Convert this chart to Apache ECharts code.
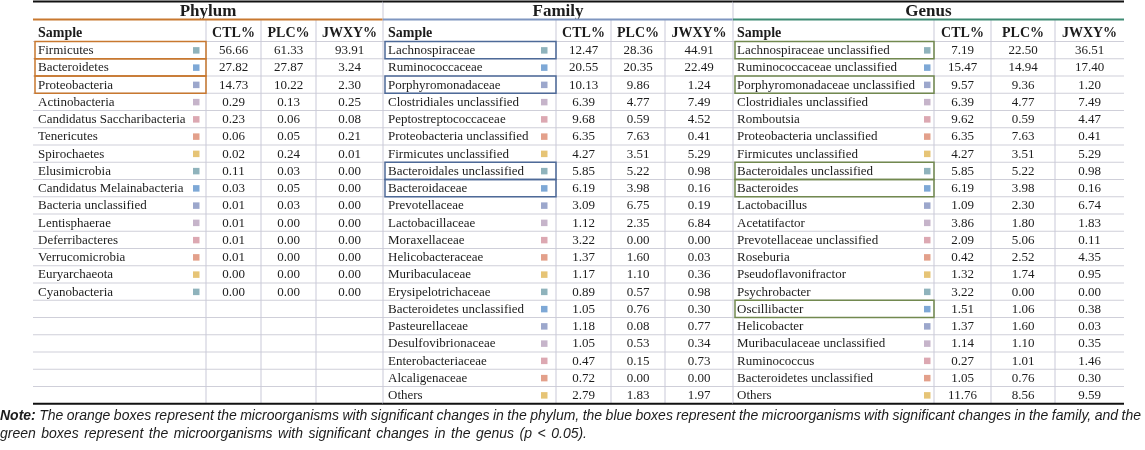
<!DOCTYPE html>
<html><head><meta charset="utf-8">
<script src="https://cdn.jsdelivr.net/npm/echarts@6/dist/echarts.min.js"></script>
<style>html,body{margin:0;padding:0;background:#fff}#c{width:1145px;height:450px}</style>
</head><body><div id="c"></div>
<script>
// ---- data ----
const sectionTitles = ['Phylum', 'Family', 'Genus'];
const columnHeaders = ['Sample', 'CTL%', 'PLC%', 'JWXY%'];

const phylumNames = ['Firmicutes','Bacteroidetes','Proteobacteria','Actinobacteria','Candidatus Saccharibacteria','Tenericutes','Spirochaetes','Elusimicrobia','Candidatus Melainabacteria','Bacteria unclassified','Lentisphaerae','Deferribacteres','Verrucomicrobia','Euryarchaeota','Cyanobacteria'];
const phylumCTL  = [56.66,27.82,14.73,0.29,0.23,0.06,0.02,0.11,0.03,0.01,0.01,0.01,0.01,0.00,0.00];
const phylumPLC  = [61.33,27.87,10.22,0.13,0.06,0.05,0.24,0.03,0.05,0.03,0.00,0.00,0.00,0.00,0.00];
const phylumJWXY = [93.91,3.24,2.30,0.25,0.08,0.21,0.01,0.00,0.00,0.00,0.00,0.00,0.00,0.00,0.00];
const phylumSig  = ['Firmicutes','Bacteroidetes','Proteobacteria'];

const familyNames = ['Lachnospiraceae','Ruminococcaceae','Porphyromonadaceae','Clostridiales unclassified','Peptostreptococcaceae','Proteobacteria unclassified','Firmicutes unclassified','Bacteroidales unclassified','Bacteroidaceae','Prevotellaceae','Lactobacillaceae','Moraxellaceae','Helicobacteraceae','Muribaculaceae','Erysipelotrichaceae','Bacteroidetes unclassified','Pasteurellaceae','Desulfovibrionaceae','Enterobacteriaceae','Alcaligenaceae','Others'];
const familyCTL  = [12.47,20.55,10.13,6.39,9.68,6.35,4.27,5.85,6.19,3.09,1.12,3.22,1.37,1.17,0.89,1.05,1.18,1.05,0.47,0.72,2.79];
const familyPLC  = [28.36,20.35,9.86,4.77,0.59,7.63,3.51,5.22,3.98,6.75,2.35,0.00,1.60,1.10,0.57,0.76,0.08,0.53,0.15,0.00,1.83];
const familyJWXY = [44.91,22.49,1.24,7.49,4.52,0.41,5.29,0.98,0.16,0.19,6.84,0.00,0.03,0.36,0.98,0.30,0.77,0.34,0.73,0.00,1.97];
const familySig  = ['Lachnospiraceae','Porphyromonadaceae','Bacteroidales unclassified','Bacteroidaceae'];

const genusNames = ['Lachnospiraceae unclassified','Ruminococcaceae unclassified','Porphyromonadaceae unclassified','Clostridiales unclassified','Romboutsia','Proteobacteria unclassified','Firmicutes unclassified','Bacteroidales unclassified','Bacteroides','Lactobacillus','Acetatifactor','Prevotellaceae unclassified','Roseburia','Pseudoflavonifractor','Psychrobacter','Oscillibacter','Helicobacter','Muribaculaceae unclassified','Ruminococcus','Bacteroidetes unclassified','Others'];
const genusCTL  = [7.19,15.47,9.57,6.39,9.62,6.35,4.27,5.85,6.19,1.09,3.86,2.09,0.42,1.32,3.22,1.51,1.37,1.14,0.27,1.05,11.76];
const genusPLC  = [22.50,14.94,9.36,4.77,0.59,7.63,3.51,5.22,3.98,2.30,1.80,5.06,2.52,1.74,0.00,1.06,1.60,1.10,1.01,0.76,8.56];
const genusJWXY = [36.51,17.40,1.20,7.49,4.47,0.41,5.29,0.98,0.16,6.74,1.83,0.11,4.35,0.95,0.00,0.38,0.03,0.35,1.46,0.30,9.59];
const genusSig  = ['Lachnospiraceae unclassified','Porphyromonadaceae unclassified','Bacteroidales unclassified','Bacteroides','Oscillibacter'];

const noteBold = 'Note:';
const noteLine1 = 'The orange boxes represent the microorganisms with significant changes in the phylum, the blue boxes represent the microorganisms with significant changes in the family, and the';
const noteLine2 = 'green boxes represent the microorganisms with significant changes in the genus (p < 0.05).';

// ---- styles / layout ----
const markerColors = ['#8fb3bc','#7ea8d6','#9ca7cc','#c6b4ca','#dca8b2','#e3a08b','#e6c476'];
const SERIF = '"Liberation Serif","Times New Roman",serif';
const SANS = '"Liberation Sans",Arial,sans-serif';
const N_ROWS = 21, ROW_TOP = 41.5, ROW_H = 17.25;
const TOP_Y = 1.5, TITLE_Y = 12, ULINE_Y = 19.5, HEAD_Y = 33;
const BOTTOM_Y = ROW_TOP + ROW_H * N_ROWS;
const layout = [
  {edges:[33,206,261,316,383], nameX:38, markX:196, lineColor:'#c8782f', boxColor:'#c8782f'},
  {edges:[383,556,611,665,733], nameX:388, markX:544, lineColor:'#7f96c0', boxColor:'#4e6a98'},
  {edges:[733,934,991,1055,1124], nameX:737, markX:927, lineColor:'#3f8c74', boxColor:'#72894f'}
];
const sectionData = [
  {names:phylumNames, ctl:phylumCTL, plc:phylumPLC, jwxy:phylumJWXY, sig:phylumSig},
  {names:familyNames, ctl:familyCTL, plc:familyPLC, jwxy:familyJWXY, sig:familySig},
  {names:genusNames, ctl:genusCTL, plc:genusPLC, jwxy:genusJWXY, sig:genusSig}
];

function line(api, x1, y1, x2, y2, color, w) {
  const a = api.coord([x1, y1]), b = api.coord([x2, y2]);
  return {type:'line', shape:{x1:a[0], y1:a[1], x2:b[0], y2:b[1]}, style:{stroke:color, lineWidth:w}};
}
function txt(api, x, y, text, align, font, fill) {
  const p = api.coord([x, y]);
  return {type:'text', style:{text:text, x:p[0], y:p[1], align:align, verticalAlign:'middle', font:font, fill:fill || '#1c1c1c'}};
}

function frameItem(params, api) {
  const k = api.value(0);
  const L = layout[k], e = L.edges;
  const ch = [];
  for (let r = 0; r < N_ROWS; r++) {
    const y = ROW_TOP + ROW_H * r;
    ch.push(line(api, e[0], y, e[4], y, '#cfcfd9', 1));
  }
  for (let j = 1; j <= 3; j++) ch.push(line(api, e[j], ULINE_Y, e[j], BOTTOM_Y, '#c9c9d8', 1));
  if (k > 0) ch.push(line(api, e[0], TOP_Y, e[0], BOTTOM_Y, '#c9c9d8', 1));
  ch.push(txt(api, (e[0] + e[4]) / 2, TITLE_Y, sectionTitles[k], 'center', 'bold 17px ' + SERIF));
  ch.push(line(api, e[0], ULINE_Y, e[4], ULINE_Y, L.lineColor, 2));
  ch.push(txt(api, L.nameX, HEAD_Y, columnHeaders[0], 'left', 'bold 14px ' + SERIF));
  for (let j = 1; j <= 3; j++) ch.push(txt(api, (e[j] + e[j + 1]) / 2, HEAD_Y, columnHeaders[j], 'center', 'bold 14px ' + SERIF));
  ch.push(line(api, e[0], TOP_Y, e[4], TOP_Y, '#111', 2));
  ch.push(line(api, e[0], BOTTOM_Y, e[4], BOTTOM_Y, '#111', 2));
  return {type:'group', children:ch};
}

function rowItemFor(k) {
  return function (params, api) {
    const L = layout[k], e = L.edges, S = sectionData[k];
    const i = api.value(0);
    const name = S.names[params.dataIndex];
    const top = ROW_TOP + ROW_H * i, cy = top + ROW_H / 2 + 0.5;
    const ch = [];
    ch.push(txt(api, L.nameX, cy, name, 'left', '13px ' + SERIF));
    const m = api.coord([L.markX, cy]);
    ch.push({type:'rect', shape:{x:m[0] - 3, y:m[1] - 3.5, width:6.5, height:6.5}, style:{fill:markerColors[i % markerColors.length]}});
    for (let j = 1; j <= 3; j++) {
      ch.push(txt(api, (e[j] + e[j + 1]) / 2, cy, api.value(j).toFixed(2), 'center', '13px ' + SERIF));
    }
    if (S.sig.indexOf(name) >= 0) {
      const a = api.coord([e[0] + 2, top]), b = api.coord([e[1], top + ROW_H]);
      ch.push({type:'rect', shape:{x:a[0], y:a[1], width:b[0] - a[0], height:b[1] - a[1]}, style:{fill:'none', stroke:L.boxColor, lineWidth:1.5}});
    }
    return {type:'group', children:ch};
  };
}

// justified note line built as rich text with sized gaps
const NOTE_SIZE = 14;
const fontI = 'italic ' + NOTE_SIZE + 'px ' + SANS;
const fontB = 'italic bold ' + NOTE_SIZE + 'px ' + SANS;
const mctx = document.createElement('canvas').getContext('2d');
function measure(t, f) { mctx.font = f; return mctx.measureText(t).width; }
function justified(words, boldFirst, target) {
  let sum = 0;
  words.forEach((w, n) => { sum += measure(w, boldFirst && n === 0 ? fontB : fontI); });
  const gap = Math.max(2, (target - sum) / (words.length - 1));
  let s = '';
  words.forEach((w, n) => {
    if (n > 0) s += '{g| }';
    s += (boldFirst && n === 0 ? '{b|' : '{i|') + w + '}';
  });
  return {text:s, rich:{
    b:{font:fontB, fill:'#1c1c1c'}, i:{font:fontI, fill:'#1c1c1c'},
    g:{font:fontI, width:gap}
  }};
}
const note1 = justified([noteBold].concat(noteLine1.split(' ')), true, 1141);
const note2 = justified(noteLine2.split(' '), false, 587);

const series = [{
  type:'custom', name:'frame', coordinateSystem:'cartesian2d',
  data: sectionTitles.map((t, k) => [k]), encode:{x:0, y:0},
  renderItem: frameItem, silent:true
}];
sectionData.forEach((S, k) => {
  series.push({
    type:'custom', name:sectionTitles[k], coordinateSystem:'cartesian2d',
    data: S.names.map((n, i) => ({name:n, value:[i, S.ctl[i], S.plc[i], S.jwxy[i]]})),
    encode:{x:0, y:0}, renderItem: rowItemFor(k), silent:true
  });
});

const chart = echarts.init(document.getElementById('c'));
chart.setOption({
  backgroundColor:'#fff',
  animation:false,
  grid:{left:0, right:0, top:0, bottom:0},
  xAxis:{type:'value', min:0, max:1145, show:false},
  yAxis:{type:'value', min:0, max:450, inverse:true, show:false},
  series: series,
  graphic:[
    {type:'text', left:0, top:409, style:note1},
    {type:'text', left:0, top:427, style:note2}
  ]
});
</script>
</body></html>
